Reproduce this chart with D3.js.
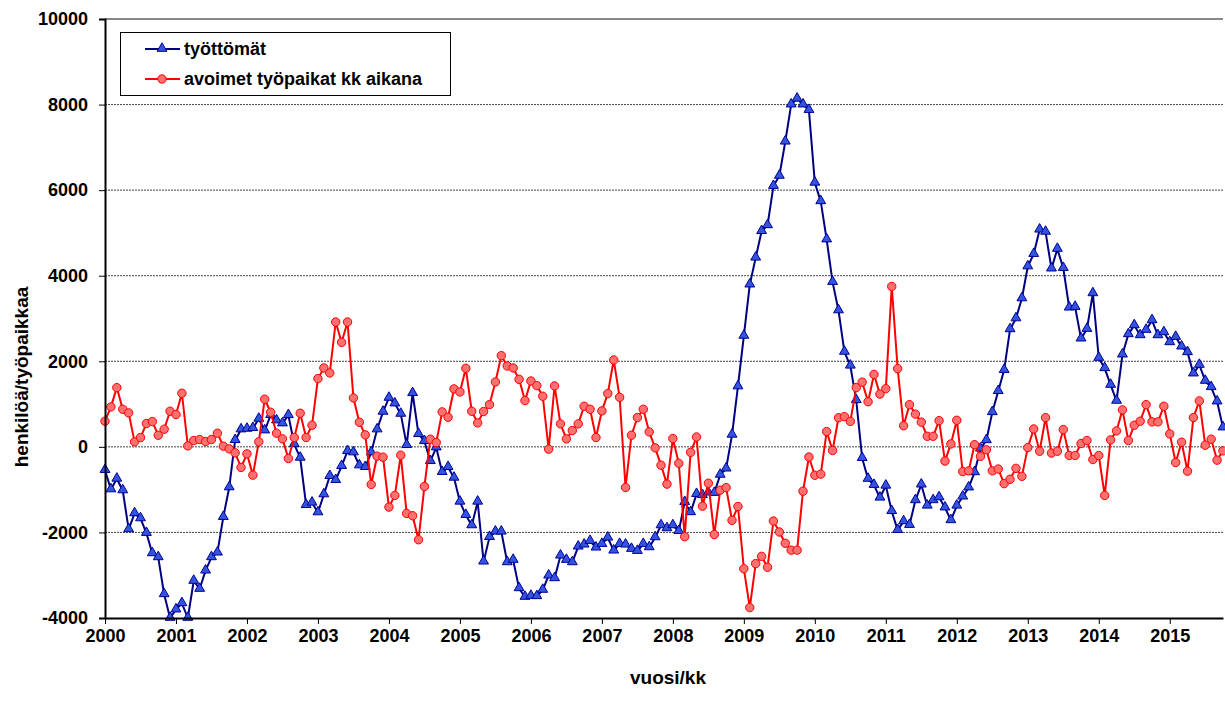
<!DOCTYPE html>
<html>
<head>
<meta charset="utf-8">
<script src="https://cdn.jsdelivr.net/npm/d3@7"></script>
<style>
  body { margin: 0; background: #fff; }
  text { font-family: "Liberation Sans", Arial, sans-serif; font-weight: bold; }
</style>
</head>
<body>
<svg id="chart" width="1225" height="706"></svg>
<script>
// kuukausittaiset muutokset 1/2000 - 10/2015
var vuodet = ["2000", "2001", "2002", "2003", "2004", "2005", "2006", "2007",
  "2008", "2009", "2010", "2011", "2012", "2013", "2014", "2015"];
var yTicks = [-4000, -2000, 0, 2000, 4000, 6000, 8000, 10000];

var tyottomat = [
  -545, -996, -747, -1019, -1929, -1556, -1673, -2015, -2490, -2583, -3447, -4000,
  -3804, -3657, -4000, -3135, -3322, -2894, -2583, -2474, -1642, -949, 156, 405,
  420, 436, 654, 381, 739, 615, 545, 739, 60, -257, -1362, -1307,
  -1533, -1113, -685, -778, -451, -101, -132, -436, -475, -132, 405, 817,
  1144, 1011, 770, 39, 1253, 296, 132, -335, -16, -591, -475, -724,
  -1284, -1595, -1836, -1284, -2684, -2110, -1984, -1984, -2700, -2645, -3307, -3509,
  -3485, -3493, -3345, -3011, -3073, -2544, -2645, -2700, -2334, -2287, -2202, -2357,
  -2272, -2124, -2427, -2272, -2287, -2388, -2435, -2272, -2350, -2116, -1836, -1906,
  -1836, -1970, -1292, -1530, -1105, -1130, -1071, -1080, -655, -510, 281, 1411,
  2593, 3791, 4420, 5041, 5177, 6095, 6333, 7132, 7999, 8135, 7999, 7871,
  6171, 5738, 4845, 3851, 3188, 2219, 1896, 1088, -264, -750, -893, -1190,
  -910, -1505, -1947, -1743, -1828, -1250, -884, -1377, -1250, -1182, -1420, -1717,
  -1377, -1165, -952, -595, -43, 153, 808, 1301, 1794, 2746, 3001, 3468,
  4216, 4505, 5075, 5024, 4165, 4625, 4178, 3252, 3268, 2529, 2754, 3587,
  2077, 1836, 1447, 1074, 2155, 2630, 2840, 2606, 2731, 2956, 2606, 2676,
  2443, 2567, 2342, 2210, 1712, 1914, 1540, 1393, 1058, 451
];

var avoimet = [
  599, 934, 1385, 879, 794, 117, 218, 545, 591, 272, 412, 832,
  755, 1253, 23, 148, 171, 124, 171, 319, 16, -47, -140, -482,
  -163, -661, 117, 1113, 809, 319, 187, -272, 218, 786, 218, 506,
  1595, 1844, 1727, 2918, 2443, 2918, 1144, 576, 280, -879, -218, -241,
  -1408, -1136, -195, -1556, -1610, -2171, -926, 179, 101, 817, 692, 1354,
  1284, 1836, 832, 560, 825, 988, 1517, 2132, 1891, 1844, 1579, 1081,
  1540, 1432, 1183, -54, 1424, 537, 187, 381, 537, 949, 879, 218,
  840, 1245, 2031, 1159, -949, 272, 685, 879, 350, -23, -428, -871,
  195, -385, -2100, -128, 230, -1386, -850, -2049, -1012, -952, -1717, -1394,
  -2848, -3757, -2729, -2559, -2814, -1734, -1989, -2253, -2414, -2414, -1037, -238,
  -663, -638, 357, -85, 680, 706, 595, 1386, 1513, 1055, 1692, 1233,
  1360, 3749, 1828, 493, 986, 765, 578, 247, 247, 612, -332, 68,
  621, -578, -561, 51, -221, -68, -561, -519, -859, -757, -502, -689,
  -17, 417, -102, 683, -145, -101, 405, -202, -202, 78, 148, -296,
  -202, -1136, 163, 373, 864, 148, 506, 599, 988, 584, 584, 949,
  303, -366, 109, -568, 685, 1074, 39, 179, -311, -93
];

var sarjat = [
  { nimi: "työttömät", arvot: tyottomat, viiva: "#000080", tayte: "#3355dd", reuna: "#000099", merkki: "kolmio" },
  { nimi: "avoimet työpaikat kk aikana", arvot: avoimet, viiva: "#ff0000", tayte: "#ff7070", reuna: "#ff0000", merkki: "ympyra" }
];

var margin = { top: 19, right: 2, bottom: 88, left: 105 },
  width = 1225 - margin.left - margin.right,
  height = 706 - margin.top - margin.bottom;

var svg = d3.select("#chart");
var g = svg.append("g").attr("transform", "translate(" + margin.left + "," + margin.top + ")");

var n = tyottomat.length;
var x = d3.scaleLinear().domain([0, n - 1]).range([0, 1223 - margin.left]);
var y = d3.scaleLinear().domain([-4000, 10000]).range([599, 0]);

// ruudukko
g.selectAll(".grid")
  .data(yTicks.filter(function (d) { return d > -4000 && d < 10000; }))
  .enter()
  .append("line")
  .attr("x1", 0)
  .attr("x2", width)
  .attr("y1", function (d) { return y(d); })
  .attr("y2", function (d) { return y(d); })
  .attr("stroke", "#444")
  .attr("stroke-width", 1)
  .style("stroke-dasharray", "2,1");

// yläreuna
g.append("line")
  .attr("x1", 0).attr("x2", width)
  .attr("y1", y(10000)).attr("y2", y(10000))
  .attr("stroke", "#888")
  .attr("stroke-width", 2);

// sarjat
var line = d3.line()
  .x(function (d, i) { return x(i); })
  .y(function (d) { return y(d); });

sarjat.forEach(function (s) {
  g.append("path")
    .datum(s.arvot)
    .attr("fill", "none")
    .attr("stroke", s.viiva)
    .attr("stroke-width", 2)
    .attr("stroke-linejoin", "round")
    .attr("d", line);

  if (s.merkki == "kolmio") {
    g.selectAll(".tri")
      .data(s.arvot)
      .enter()
      .append("path")
      .attr("d", d3.symbol().type(d3.symbolTriangle).size(42))
      .attr("transform", function (d, i) { return "translate(" + x(i) + "," + (y(d) - 0.5) + ")"; })
      .attr("fill", s.tayte)
      .attr("stroke", s.reuna)
      .attr("stroke-width", 1);
  } else {
    g.selectAll(".circ")
      .data(s.arvot)
      .enter()
      .append("circle")
      .attr("cx", function (d, i) { return x(i); })
      .attr("cy", function (d) { return y(d); })
      .attr("r", 4.2)
      .attr("fill", s.tayte)
      .attr("stroke", s.reuna)
      .attr("stroke-width", 1);
  }
});

// akselit
var yAxis = g.append("g")
  .call(d3.axisLeft(y).tickValues(yTicks).tickSize(6).tickPadding(11)
    .tickFormat(function (d) { return String(d); }));
yAxis.select(".domain").attr("stroke", "#000").attr("stroke-width", 2);
yAxis.selectAll(".tick line").attr("stroke", "#000");
yAxis.selectAll("text").style("font-size", "18px").attr("fill", "#000");

var xAxis = g.append("g")
  .attr("transform", "translate(0," + y(-4000) + ")")
  .call(d3.axisBottom(x)
    .tickValues(vuodet.map(function (d, i) { return i * 12; }))
    .tickSize(6)
    .tickPadding(5)
    .tickSizeOuter(0)
    .tickFormat(function (d) { return vuodet[d / 12]; }));
xAxis.select(".domain").attr("stroke", "#000").attr("stroke-width", 2);
xAxis.selectAll(".tick line").attr("stroke", "#000");
xAxis.selectAll("text").style("font-size", "18px").attr("fill", "#000");

// otsikot
svg.append("text")
  .attr("transform", "translate(28,377) rotate(-90)")
  .attr("text-anchor", "middle")
  .style("font-size", "19px")
  .text("henkilöä/työpaikkaa");

svg.append("text")
  .attr("x", 668)
  .attr("y", 684)
  .attr("text-anchor", "middle")
  .style("font-size", "19px")
  .text("vuosi/kk");

// selite
var legende = svg.append("g");
legende.append("rect")
  .attr("x", 120.5).attr("y", 32.5)
  .attr("width", 330).attr("height", 63)
  .attr("fill", "#fff")
  .attr("stroke", "#000")
  .attr("stroke-width", 1);

sarjat.forEach(function (s, i) {
  var ly = 49 + i * 30;
  legende.append("line")
    .attr("x1", 145).attr("x2", 180)
    .attr("y1", ly).attr("y2", ly)
    .attr("stroke", s.viiva)
    .attr("stroke-width", 2);
  if (s.merkki == "kolmio") {
    legende.append("path")
      .attr("d", d3.symbol().type(d3.symbolTriangle).size(42))
      .attr("transform", "translate(162," + (ly - 0.5) + ")")
      .attr("fill", s.tayte)
      .attr("stroke", s.reuna);
  } else {
    legende.append("circle")
      .attr("cx", 162).attr("cy", ly).attr("r", 4.2)
      .attr("fill", s.tayte)
      .attr("stroke", s.reuna);
  }
  legende.append("text")
    .attr("x", 184)
    .attr("y", ly)
    .attr("dominant-baseline", "central")
    .style("font-size", "18px")
    .text(s.nimi);
});
</script>
</body>
</html>
